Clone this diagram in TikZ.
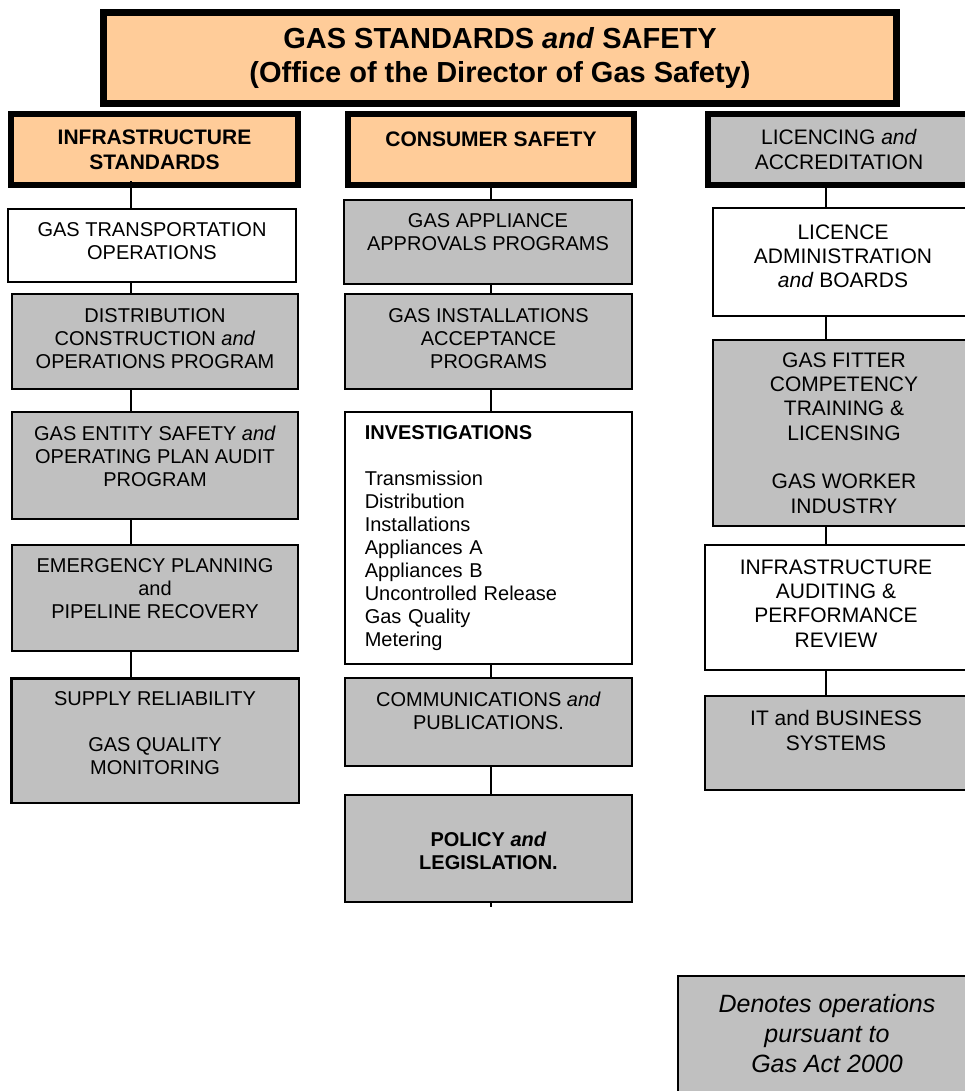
\documentclass[tikz,border=0pt]{standalone}
\usepackage{fontspec}
\setmainfont{Liberation Sans}
\definecolor{peach}{HTML}{FFCC99}
\definecolor{unitgrey}{HTML}{C0C0C0}
\newcommand{\lowgap}[1]{\rule[-#1pt]{0pt}{0pt}}

\begin{document}
\begin{tikzpicture}[x=1pt,y=-1pt]
\tikzset{unit/.style = {shape=rectangle,draw,line width=1.6pt,fill=white,align=center,inner sep=0pt,font=\fontsize{20}{23}\selectfont}}
\tikzset{grey/.style = {unit,fill=unitgrey}}
\tikzset{wide/.style = {font=\fontsize{21}{24.3}\selectfont}}
\tikzset{head/.style = {unit,line width=6pt,font=\bfseries\fontsize{21}{25}\selectfont}}
\tikzset{link/.style = {line width=1.5pt}}
\useasboundingbox (0,0) rectangle (965,1091);
\clip (0,0) rectangle (965,1091);
%\fill[white] (0,0) rectangle (965,1091);
\node[head,fill=peach,line width=7pt,minimum width=793pt,minimum height=91pt,font=\bfseries\fontsize{29}{34}\selectfont] (gss) at (500,58) {GAS STANDARDS \textit{and} SAFETY\\(Office of the Director of Gas Safety)};
\node[head,fill=peach,minimum width=287.5pt,minimum height=71.5pt] (infra) at (154.5,149.5) {INFRASTRUCTURE\\STANDARDS};
\node[head,fill=peach,minimum width=286.5pt,minimum height=71.5pt] (cons) at (491,149.5) {CONSUMER SAFETY\lowgap{21}};
\node[head,fill=unitgrey,font=\fontsize{21}{25}\selectfont,minimum width=262.5pt,minimum height=71.5pt] (lic) at (839,149.5) {LICENCING \textit{and}\\ACCREDITATION};
% infrastructure column
\node[unit,minimum width=288.4pt,minimum height=73.4pt] (trans) at (152,245.5) {GAS TRANSPORTATION\\OPERATIONS\lowgap{8}};
\node[grey,minimum width=286.4pt,minimum height=95.4pt] (dist) at (155,341.5) {DISTRIBUTION\\CONSTRUCTION \textit{and}\\OPERATIONS PROGRAM\lowgap{5}};
\node[grey,minimum width=286.4pt,minimum height=107.4pt] (entity) at (155,465.5) {GAS ENTITY SAFETY \textit{and}\\OPERATING PLAN AUDIT\\PROGRAM\lowgap{19}};
\node[grey,minimum width=286.4pt,minimum height=106.4pt] (emerg) at (155,598) {EMERGENCY PLANNING\\and\\PIPELINE RECOVERY\lowgap{18}};
\node[grey,line width=2.5pt,minimum width=287.5pt,minimum height=124.5pt] (supply) at (155,740.5) {SUPPLY RELIABILITY\\[23pt]GAS QUALITY\\MONITORING\lowgap{15}};
% consumer column
\node[grey,minimum width=288.4pt,minimum height=84.4pt] (appl) at (488,242) {GAS APPLIANCE\\APPROVALS PROGRAMS\lowgap{19}};
\node[grey,minimum width=287.4pt,minimum height=95.4pt] (inst) at (488.5,341.5) {GAS INSTALLATIONS\\ACCEPTANCE\\PROGRAMS\lowgap{5}};
\node[unit,minimum width=287.4pt,minimum height=252.4pt,text width=247.4pt,inner xsep=20pt,align=left] (invest) at (488.5,538) {\textbf{INVESTIGATIONS}\\[23pt]Transmission\\Distribution\\Installations\\Appliances A\\Appliances B\\Uncontrolled Release\\Gas Quality\\Metering};
\node[grey,minimum width=287.4pt,minimum height=88.4pt] (comms) at (488.5,722) {COMMUNICATIONS \textit{and}\\PUBLICATIONS.\lowgap{22}};
\node[grey,minimum width=287.4pt,minimum height=107.4pt,font=\bfseries\fontsize{20}{23}\selectfont] (policy) at (488.5,848.5) {\rule{0pt}{20pt}POLICY \textit{and}\\LEGISLATION.};
% licencing column
\node[unit,wide,minimum width=260.4pt,minimum height=108.4pt] (licence) at (843,262) {LICENCE\\ADMINISTRATION\\\textit{and} BOARDS\lowgap{12}};
\node[grey,wide,minimum width=262.4pt,minimum height=186.4pt] (fitter) at (844,433) {GAS FITTER\\COMPETENCY\\TRAINING \&\\LICENSING\\[24.3pt]GAS WORKER\\INDUSTRY};
\node[unit,wide,minimum width=262.4pt,minimum height=125.4pt] (audit) at (836,607.5) {INFRASTRUCTURE\\AUDITING \&\\PERFORMANCE\\REVIEW\lowgap{8}};
\node[grey,wide,minimum width=262.4pt,minimum height=94.4pt] (itsys) at (836,743) {IT and BUSINESS\\SYSTEMS\lowgap{25}};
\node[grey,minimum width=298.4pt,minimum height=143.4pt,font=\itshape\fontsize{25}{30}\selectfont] (legend) at (827,1047.5) {Denotes operations\\pursuant to\\Gas Act 2000\lowgap{29}};
% connectors
\coordinate (c1) at (131,0);
\coordinate (c2) at (491,0);
\coordinate (c3) at (826,0);
\draw[link] (infra.south -| c1) ++(0,-7) -- (trans.north -| c1);
\draw[link] (trans.south -| c1) -- (dist.north -| c1);
\draw[link] (dist.south -| c1) -- (entity.north -| c1);
\draw[link] (entity.south -| c1) -- (emerg.north -| c1);
\draw[link] (emerg.south -| c1) -- (supply.north -| c1);
\draw[link] (cons.south -| c2) -- (appl.north -| c2);
\draw[link] (appl.south -| c2) -- (inst.north -| c2);
\draw[link] (inst.south -| c2) -- (invest.north -| c2);
\draw[link] (invest.south -| c2) -- (comms.north -| c2);
\draw[link] (comms.south -| c2) -- (policy.north -| c2);
\draw[link] (policy.south -| c2) -- ++(0,4);
\draw[link] (lic.south -| c3) -- (licence.north -| c3);
\draw[link] (licence.south -| c3) -- (fitter.north -| c3);
\draw[link] (fitter.south -| c3) -- (audit.north -| c3);
\draw[link] (audit.south -| c3) -- (itsys.north -| c3);
\end{tikzpicture}
\end{document}
